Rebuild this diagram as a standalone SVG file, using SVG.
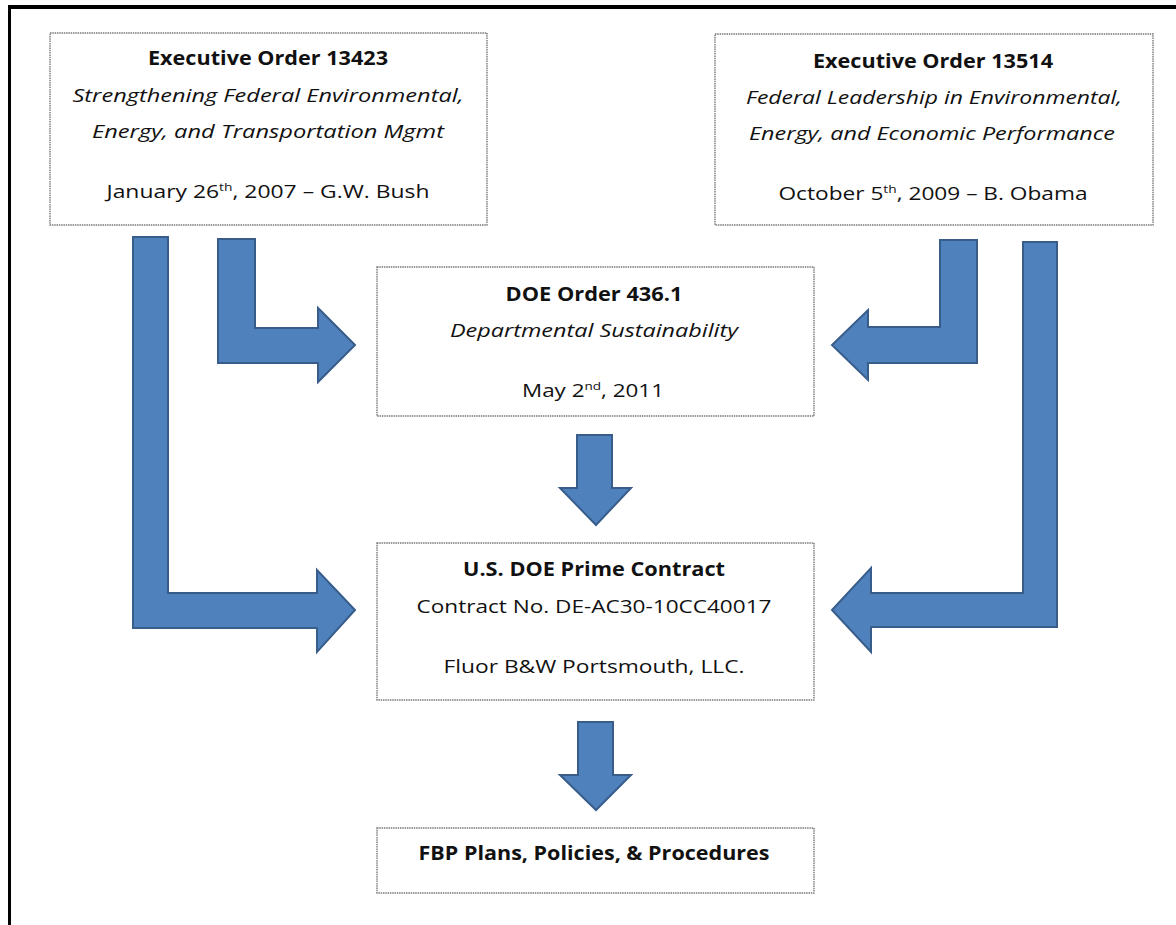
<svg xmlns="http://www.w3.org/2000/svg" width="1176" height="925" viewBox="0 0 1176 925">
<style>
.box{fill:#fff;stroke:#7a7a7a;stroke-width:1.4;stroke-dasharray:1.5 0.8}
.arr{fill:#4f81bd;stroke:#385d8a;stroke-width:2;stroke-linejoin:miter}
text{font-family:"Open Sans","Noto Sans",sans-serif;font-size:19px;fill:#111;text-anchor:middle}
.b{font-weight:bold}
.i{font-style:italic}
.sup{font-size:11.5px}
</style>
<rect x="0" y="0" width="1176" height="925" fill="#fff"/>
<g id="frame">
<line x1="9.5" y1="7" x2="9.5" y2="925" stroke="#000" stroke-width="3"/>
<line x1="8" y1="7" x2="1176" y2="7" stroke="#000" stroke-width="4"/>
</g>
<g id="connectors">
<polygon class="arr" points="133,237 168,237 168,593 317,593 317,570 355,610 317,652 317,628 133,628"/>
<polygon class="arr" points="218,239 255,239 255,328 318,328 318,308 355,345 318,382 318,363 218,363"/>
<polygon class="arr" points="977,240 940,240 940,327 868,327 868,310 832,345 868,380 868,363 977,363"/>
<polygon class="arr" points="1057,242 1023,242 1023,593 871,593 871,568 832,610 871,652 871,627 1057,627"/>
<polygon class="arr" points="577,435 612,435 612,488 631,488 596,525 560,488 577,488"/>
<polygon class="arr" points="578,722 613,722 613,775 631,775 596,810 560,775 578,775"/>
</g>
<g id="eo13423">
<rect class="box" x="50" y="33" width="437" height="192"/>
<text class="b" x="268" y="65" textLength="240" lengthAdjust="spacingAndGlyphs">Executive Order 13423</text>
<text class="i" x="268" y="102" textLength="391" lengthAdjust="spacingAndGlyphs">Strengthening Federal Environmental,</text>
<text class="i" x="268" y="138" textLength="352" lengthAdjust="spacingAndGlyphs">Energy, and Transportation  Mgmt</text>
<text x="268" y="198" textLength="323" lengthAdjust="spacingAndGlyphs">January 26<tspan class="sup" dy="-7">th</tspan><tspan dy="7">, 2007 – G.W. Bush</tspan></text>
</g>
<g id="eo13514">
<rect class="box" x="715" y="34" width="438" height="191"/>
<text class="b" x="933" y="68" textLength="240" lengthAdjust="spacingAndGlyphs">Executive Order 13514</text>
<text class="i" x="934" y="104" textLength="376" lengthAdjust="spacingAndGlyphs">Federal Leadership in Environmental,</text>
<text class="i" x="932" y="140" textLength="366" lengthAdjust="spacingAndGlyphs">Energy, and Economic Performance</text>
<text x="933" y="200" textLength="309" lengthAdjust="spacingAndGlyphs">October 5<tspan class="sup" dy="-7">th</tspan><tspan dy="7">, 2009 – B. Obama</tspan></text>
</g>
<g id="doe4361">
<rect class="box" x="377" y="267" width="437" height="149"/>
<text class="b" x="594" y="301" textLength="177" lengthAdjust="spacingAndGlyphs">DOE Order 436.1</text>
<text class="i" x="594" y="337" textLength="288" lengthAdjust="spacingAndGlyphs">Departmental Sustainability</text>
<text x="593" y="397" textLength="142" lengthAdjust="spacingAndGlyphs">May 2<tspan class="sup" dy="-7">nd</tspan><tspan dy="7">, 2011</tspan></text>
</g>
<g id="contract">
<rect class="box" x="377" y="543" width="437" height="157"/>
<text class="b" x="594" y="576" textLength="262" lengthAdjust="spacingAndGlyphs">U.S. DOE Prime Contract</text>
<text x="594" y="613" textLength="355" lengthAdjust="spacingAndGlyphs">Contract No. DE-AC30-10CC40017</text>
<text x="594" y="673" textLength="301" lengthAdjust="spacingAndGlyphs">Fluor B&amp;W Portsmouth,  LLC.</text>
</g>
<g id="fbp">
<rect class="box" x="377" y="828" width="437" height="65"/>
<text class="b" x="594" y="860" textLength="351" lengthAdjust="spacingAndGlyphs">FBP Plans, Policies, &amp; Procedures</text>
</g>
</svg>
